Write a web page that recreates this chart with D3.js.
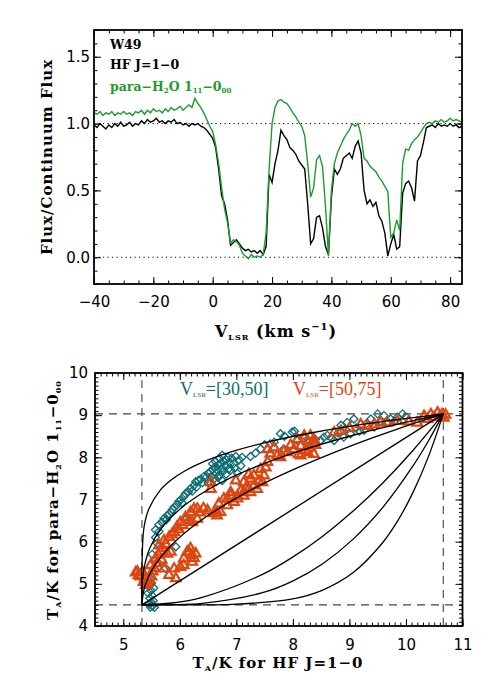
<!DOCTYPE html>
<html>
<head>
<meta charset="utf-8">
<script src="https://cdn.jsdelivr.net/npm/d3@7"></script>
<style>
  body { margin: 0; background: #fff; }
  svg { display: block; }
</style>
</head>
<body>
<div id="chart"></div>
<script>
// ---- top panel: spectra (1 km/s channels) ----
const velocity = d3.range(-40, 85, 1);
const hfFlux = [
  0.99, 0.97, 1.00, 0.98, 0.96, 0.99, 0.97, 1.00, 0.98, 1.01,
  0.98, 0.99, 1.01, 0.98, 1.00, 0.99, 1.02, 1.00, 1.03, 1.01,
  1.02, 1.04, 1.01, 1.02, 1.00, 1.02, 1.01, 1.03, 1.00, 1.01,
  0.99, 1.00, 0.98, 1.00, 0.99, 1.00, 0.98, 0.97, 0.95, 0.92,
  0.89, 0.82, 0.66, 0.46, 0.40, 0.28, 0.09, 0.11, 0.13, 0.10,
  0.07, 0.05, 0.06, 0.04, 0.05, 0.03, 0.05, 0.02, 0.08, 0.62,
  0.56, 0.70, 0.80, 0.95, 0.91, 0.88, 0.82, 0.80, 0.77, 0.72,
  0.69, 0.66, 0.40, 0.10, 0.14, 0.30, 0.31, 0.22, 0.08, 0.02,
  0.45, 0.66, 0.62, 0.66, 0.74, 0.76, 0.78, 0.74, 0.83, 0.87,
  0.78, 0.50, 0.40, 0.43, 0.38, 0.41, 0.31, 0.27, 0.18, 0.01,
  0.10, 0.17, 0.06, 0.08, 0.48, 0.55, 0.57, 0.52, 0.42, 0.72,
  0.76, 0.86, 0.97, 0.98, 0.99, 0.97, 1.00, 0.98, 0.99, 0.98,
  1.00, 0.98, 0.99, 0.97, 0.98
];
const h2oFlux = [
  1.08, 1.07, 1.09, 1.06, 1.08, 1.07, 1.09, 1.06, 1.08, 1.07,
  1.09, 1.07, 1.08, 1.06, 1.09, 1.08, 1.10, 1.07, 1.10, 1.08,
  1.11, 1.09, 1.10, 1.08, 1.11, 1.09, 1.12, 1.10, 1.11, 1.13,
  1.10, 1.12, 1.14, 1.12, 1.19, 1.15, 1.12, 1.08, 1.03, 0.98,
  0.94, 0.84, 0.70, 0.52, 0.36, 0.26, 0.11, 0.13, 0.12, 0.09,
  0.03, 0.01, -0.01, 0.02, 0.00, 0.01, 0.00, 0.02, 0.18, 0.66,
  1.00, 1.12, 1.17, 1.18, 1.16, 1.15, 1.12, 1.08, 1.05, 1.01,
  0.98, 0.91, 0.70, 0.45, 0.52, 0.73, 0.76, 0.68, 0.38, 0.01,
  0.50, 0.70, 0.78, 0.83, 0.88, 0.92, 0.95, 1.00, 0.98, 1.00,
  0.91, 0.74, 0.72, 0.68, 0.66, 0.64, 0.60, 0.57, 0.53, 0.49,
  0.15, 0.18, 0.28, 0.20, 0.70, 0.81, 0.80, 0.85, 0.88, 0.90,
  0.93, 0.97, 1.00, 1.01, 1.00, 1.02, 1.01, 1.03, 1.01, 1.02,
  1.04, 1.02, 1.03, 1.02, 1.01
];
const topXTicks = [-40, -20, 0, 20, 40, 60, 80];
const topYTicks = [0.0, 0.5, 1.0, 1.5];

// ---- bottom panel: T_A(HF) vs T_A(p-H2O) ----
const points30to50 = [
  [5.48,4.45],[5.52,4.48],[5.55,4.44],[5.46,4.52],[5.50,4.56],[5.53,4.60],[5.47,4.66],
  [5.51,4.72],[5.44,4.78],[5.49,4.84],[5.54,4.90],[5.46,4.96],[5.50,5.02],[5.48,5.12],
  [5.51,5.70],[5.60,5.50],[5.75,5.37],[5.93,5.88],[5.60,5.96],[6.10,6.52],
  [5.57,6.10],[5.57,6.28],[5.63,6.24],[5.63,6.40],[5.68,6.46],[5.72,6.55],[5.76,6.52],
  [5.78,6.62],[5.81,6.66],[5.85,6.70],[5.87,6.76],[5.90,6.82],[5.95,6.87],[5.98,6.95],
  [6.02,7.00],[6.04,6.92],[6.07,7.07],[6.10,7.14],[6.15,7.18],[6.19,7.26],[6.22,7.20],
  [6.25,7.33],[6.28,7.42],[6.30,7.30],[6.33,7.45],[6.37,7.48],[6.40,7.40],[6.43,7.55],
  [6.46,7.52],[6.50,7.62],[6.54,7.66],[6.56,7.55],[6.58,7.72],[6.62,7.76],[6.64,7.62],
  [6.66,7.70],[6.68,7.82],[6.70,7.58],[6.72,7.86],[6.74,7.74],[6.76,7.66],[6.78,7.90],
  [6.80,7.80],[6.83,7.94],[6.86,7.72],[6.88,7.88],[6.92,7.98],[6.95,7.85],[6.99,8.02],
  [6.60,7.48],[6.68,7.52],[6.75,7.45],[6.82,7.60],[6.90,7.70],[6.97,7.75],[7.02,7.62],
  [6.63,7.90],[6.70,7.98],[6.75,8.05],[6.58,7.85],[6.50,7.40],[6.85,8.00],[7.08,7.80],
  [7.05,7.94],[7.10,8.00],[7.25,8.02],[7.34,8.10],[7.43,8.20],[7.50,8.30],[7.60,8.32],
  [7.67,8.36],[7.78,8.56],[7.84,8.20],[7.85,8.50],[7.99,8.60],[8.03,8.62],[8.08,8.40],
  [8.20,8.45],[8.30,8.38],[8.40,8.42],[8.49,8.40],[8.55,8.48],[8.61,8.52],[8.68,8.46],
  [8.73,8.40],[8.80,8.58],[8.85,8.76],[8.90,8.48],[8.93,8.66],[8.96,8.83],[9.02,8.56],
  [9.08,8.91],[9.12,8.70],[9.18,8.62],[9.26,8.64],[9.30,8.80],[9.38,8.91],[9.44,8.72],
  [9.50,9.03],[9.55,8.86],[9.61,8.99],[9.68,8.84],[9.73,8.91],[9.80,8.86],[9.85,8.95],
  [9.94,9.03],[10.00,8.96]
];
const points50to75 = [
  [5.22,5.28],[5.27,5.22],[5.25,5.30],[5.30,5.18],[5.34,5.30],[5.38,5.12],[5.36,5.05],
  [5.40,4.98],[5.43,5.02],[5.45,5.10],[5.48,5.45],[5.50,5.18],[5.52,5.30],[5.55,5.38],
  [5.57,5.61],[5.60,5.50],[5.62,5.70],[5.63,5.92],[5.66,5.77],[5.68,5.58],[5.70,5.85],
  [5.72,6.04],[5.72,5.37],[5.75,5.95],[5.78,5.72],[5.81,6.12],[5.81,5.22],[5.84,5.77],
  [5.86,6.18],[5.90,6.24],[5.90,5.37],[5.93,5.14],[5.95,6.36],[5.98,6.30],[6.01,6.47],
  [6.01,5.41],[6.05,6.40],[6.07,5.45],[6.07,5.61],[6.10,6.59],[6.13,5.77],[6.16,5.77],
  [6.16,6.52],[6.19,5.85],[6.19,6.71],[6.22,5.69],[6.22,5.53],[6.25,6.79],[6.25,5.62],
  [6.28,5.73],[6.22,6.47],[6.31,6.55],[6.31,6.79],[6.36,6.70],
  [6.42,6.80],[6.49,6.75],[6.55,7.26],[6.55,7.42],[6.60,6.68],[6.66,6.63],[6.66,6.71],
  [6.69,6.91],[6.72,6.71],[6.78,7.03],[6.84,6.87],[6.84,7.03],[6.90,7.18],[6.90,7.10],
  [6.96,6.95],[6.99,7.46],[7.02,7.03],[7.02,7.10],[7.08,7.22],[7.13,7.10],[7.13,7.18],
  [7.13,7.42],[7.18,7.30],[7.22,7.26],[7.25,7.18],[7.25,7.50],[7.22,7.61],[7.31,7.34],
  [7.31,7.58],[7.37,7.26],[7.40,7.45],[7.43,7.73],[7.46,7.42],[7.49,7.58],[7.52,7.77],
  [7.55,7.90],
  [7.55,8.20],[7.60,8.10],[7.67,8.24],[7.72,8.05],[7.78,8.01],[7.84,8.15],[7.90,8.13],
  [7.96,8.30],[8.02,8.20],[8.08,8.44],[8.10,8.08],[8.14,8.28],[8.14,8.05],[8.20,8.52],
  [8.22,8.18],[8.26,8.40],[8.26,8.13],[8.31,8.52],[8.31,8.24],[8.34,8.35],[8.37,8.44],
  [8.37,8.09],[8.40,8.30],[8.73,8.60],[8.85,8.64],[9.00,8.70],[9.20,8.79],[9.32,8.75],
  [9.44,8.79],[9.55,8.84],[9.67,8.83],[9.85,8.87],[10.05,8.86],[10.20,8.83],[10.32,8.99],
  [10.38,8.92],[10.44,9.03],[10.50,8.96],[10.56,9.07],[10.60,8.98],[10.64,9.03],
  [10.67,8.95],[10.70,9.02]
];
// model curves
const model1 = [[5.33,4.5],[5.331,5.406],[5.364,6.312],[5.448,6.765],[5.651,7.218],[5.829,7.445],
  [6.079,7.671],[6.425,7.898],[6.892,8.124],[7.510,8.351],[8.315,8.577],[9.349,8.804],[10.66,9.03]];
const model2 = [[5.33,4.5],[5.335,4.953],[5.373,5.406],[5.474,5.859],[5.671,6.312],[5.996,6.765],
  [6.481,7.218],[7.158,7.671],[8.059,8.124],[9.216,8.577],[10.66,9.03]];
const model3 = [[5.33,4.5],[5.383,4.953],[5.543,5.406],[5.863,5.932],[6.396,6.525],[7.196,7.182],
  [7.995,7.703],[9.061,8.292],[9.861,8.677],[10.66,9.03]];
const model4 = [[5.33,4.5],[10.66,9.03]];
const model5 = [[5.33,4.5],[5.863,4.545],[6.396,4.681],[7.462,5.225],[7.995,5.633],[8.528,6.131],
  [9.061,6.720],[9.594,7.399],[10.127,8.169],[10.66,9.03]];
const model6 = [[5.33,4.5],[5.863,4.505],[6.396,4.536],[7.462,4.790],[7.995,5.066],[8.528,5.478],
  [9.061,6.054],[9.594,6.819],[10.127,7.802],[10.394,8.382],[10.66,9.03]];
const model7 = [[5.33,4.5],[6.13,4.5],[6.929,4.511],[7.995,4.642],[8.528,4.852],[9.061,5.261],
  [9.594,5.986],[9.861,6.510],[10.127,7.175],[10.394,8.005],[10.66,9.03]];
const limitsHF = [5.33, 10.66];
const limitsH2O = [4.5, 9.03];

const green = "#1f9a2f", teal = "#0f6c75", orange = "#de4610";
const serif = "DejaVu Serif", sans = "DejaVu Sans";

const svg = d3.select("#chart").append("svg").attr("width", 491).attr("height", 687);

// rich text with sub/superscripts
function richText(g, parts, x, y, opts) {
  const t = g.append("text")
    .attr("font-family", opts.family || serif)
    .attr("font-weight", opts.weight || "bold")
    .attr("font-size", opts.size || 15)
    .attr("letter-spacing", opts.spacing || 0)
    .attr("fill", opts.fill || "#000")
    .attr("text-anchor", opts.anchor || "start");
  if (opts.rotate) t.attr("transform", `translate(${x},${y}) rotate(-90)`);
  else t.attr("x", x).attr("y", y);
  let prev = 0;
  parts.forEach(p => {
    const shift = p.sub ? (opts.subShift || 3) : p.sup ? -(opts.supShift || 6) : 0;
    const ts = t.append("tspan").text(p.t).attr("dy", shift - prev);
    if (p.sub || p.sup) ts.attr("font-size", p.sup ? (opts.supSize || 10) : (opts.small || 8));
    prev = shift;
  });
  return t;
}

// IDL style box with inward ticks on all four sides
function boxAxes(g, x, y, xMajor, xMinor, yMajor, yMinor, xFmt, yFmt, xPad, yPad) {
  const [x0, x1] = x.range(), [y0, y1] = y.range();
  const style = sel => {
    sel.select(".domain").remove();
    sel.selectAll("line").attr("stroke", "#000").attr("stroke-width", 1);
    sel.selectAll("text").attr("font-family", sans).attr("font-size", 15).attr("fill", "#000");
  };
  g.append("g").attr("transform", `translate(0,${y0})`)
    .call(d3.axisBottom(x).tickValues(xMajor).tickSize(-7).tickPadding(xPad).tickFormat(xFmt)).call(style);
  g.append("g").attr("transform", `translate(0,${y0})`)
    .call(d3.axisBottom(x).tickValues(xMinor).tickSize(-3.5).tickFormat("")).call(style);
  g.append("g").attr("transform", `translate(0,${y1})`)
    .call(d3.axisTop(x).tickValues(xMajor).tickSize(-7).tickFormat("")).call(style);
  g.append("g").attr("transform", `translate(0,${y1})`)
    .call(d3.axisTop(x).tickValues(xMinor).tickSize(-3.5).tickFormat("")).call(style);
  g.append("g").attr("transform", `translate(${x0},0)`)
    .call(d3.axisLeft(y).tickValues(yMajor).tickSize(-7).tickPadding(yPad).tickFormat(yFmt)).call(style);
  g.append("g").attr("transform", `translate(${x0},0)`)
    .call(d3.axisLeft(y).tickValues(yMinor).tickSize(-3.5).tickFormat("")).call(style);
  g.append("g").attr("transform", `translate(${x1},0)`)
    .call(d3.axisRight(y).tickValues(yMajor).tickSize(-7).tickFormat("")).call(style);
  g.append("g").attr("transform", `translate(${x1},0)`)
    .call(d3.axisRight(y).tickValues(yMinor).tickSize(-3.5).tickFormat("")).call(style);
  g.append("rect")
    .attr("x", x0).attr("y", y1).attr("width", x1 - x0).attr("height", y0 - y1)
    .attr("fill", "none").attr("stroke", "#000").attr("stroke-width", 1.8);
}

// ================= top panel =================
const xTop = d3.scaleLinear().domain([-40, 84]).range([94, 462]);
const yTop = d3.scaleLinear().domain([-0.2, 1.7]).range([284, 30]);
const gTop = svg.append("g");

[0, 1].forEach(v => {
  gTop.append("line")
    .attr("x1", xTop(-40)).attr("x2", xTop(84)).attr("y1", yTop(v)).attr("y2", yTop(v))
    .attr("stroke", "#000").attr("stroke-width", 1).attr("stroke-dasharray", "1.2,3.3");
});

const specLine = vals => d3.line().x((d, i) => xTop(velocity[i])).y(d => yTop(d))(vals);
gTop.append("path").attr("d", specLine(hfFlux))
  .attr("fill", "none").attr("stroke", "#000").attr("stroke-width", 1.4);
gTop.append("path").attr("d", specLine(h2oFlux))
  .attr("fill", "none").attr("stroke", green).attr("stroke-width", 1.4);

boxAxes(gTop, xTop, yTop, topXTicks, d3.range(-40, 85, 5),
  topYTicks, d3.range(-2, 18).map(d => d / 10),
  d3.format("d"), d3.format(".1f"), 12, 4);

richText(gTop, [{ t: "W49" }], 110, 49, { size: 12.5 });
richText(gTop, [{ t: "HF J=1\u22120" }], 110, 69, { size: 12.5 });
richText(gTop, [{ t: "para\u2212H" }, { t: "2", sub: true }, { t: "O 1" }, { t: "11", sub: true },
  { t: "\u22120" }, { t: "00", sub: true }], 110, 91, { size: 12.5, fill: green, small: 7, subShift: 2 });

richText(gTop, [{ t: "Flux/Continuum Flux" }], 52, 157,
  { size: 15, spacing: 1, anchor: "middle", rotate: true });
richText(gTop, [{ t: "V" }, { t: "LSR", sub: true }, { t: " (km s" }, { t: "\u22121", sup: true }, { t: ")" }],
  276, 337, { size: 16, spacing: 1, anchor: "middle", supSize: 10, supShift: 7 });

// ================= bottom panel =================
const xBot = d3.scaleLinear().domain([4.5, 11]).range([95, 462.5]);
const yBot = d3.scaleLinear().domain([4, 10]).range([626, 373]);
const gBot = svg.append("g");

limitsHF.forEach(v => {
  gBot.append("line").attr("x1", xBot(v)).attr("x2", xBot(v)).attr("y1", yBot(4)).attr("y2", yBot(10))
    .attr("stroke", "#444").attr("stroke-width", 1.1).attr("stroke-dasharray", "8,6");
});
limitsH2O.forEach(v => {
  gBot.append("line").attr("x1", xBot(4.5)).attr("x2", xBot(11)).attr("y1", yBot(v)).attr("y2", yBot(v))
    .attr("stroke", "#444").attr("stroke-width", 1.1).attr("stroke-dasharray", "8,6");
});

const diamond = r => `M0,${-r}L${r},0L0,${r}L${-r},0Z`;
const triangle = r => `M0,${-r}L${r * 0.95},${r * 0.65}L${-r * 0.95},${r * 0.65}Z`;

gBot.append("g").selectAll("path").data(points30to50).join("path")
  .attr("d", diamond(4))
  .attr("transform", d => `translate(${xBot(d[0])},${yBot(d[1])})`)
  .attr("fill", "none").attr("stroke", teal).attr("stroke-width", 1.3);
gBot.append("g").selectAll("path").data(points50to75).join("path")
  .attr("d", triangle(5))
  .attr("transform", d => `translate(${xBot(d[0])},${yBot(d[1])})`)
  .attr("fill", "none").attr("stroke", orange).attr("stroke-width", 2.2);

const modelLine = d3.line().x(d => xBot(d[0])).y(d => yBot(d[1])).curve(d3.curveCatmullRom.alpha(0.5));
[model1, model2, model3, model4, model5, model6, model7].forEach(m => {
  gBot.append("path").attr("d", modelLine(m))
    .attr("fill", "none").attr("stroke", "#000").attr("stroke-width", 1.3);
});

boxAxes(gBot, xBot, yBot, d3.range(5, 12), d3.range(45, 111).map(d => d / 10),
  d3.range(4, 11), d3.range(40, 101).map(d => d / 10),
  d3.format("d"), d3.format("d"), 13, 7);

richText(gBot, [{ t: "V" }, { t: "LSR", sub: true }, { t: "=[30,50]" }], 180, 395,
  { family: "Liberation Serif", weight: "normal", size: 18, fill: teal, small: 7, subShift: 2 });
richText(gBot, [{ t: "V" }, { t: "LSR", sub: true }, { t: "=[50,75]" }], 293, 395,
  { family: "Liberation Serif", weight: "normal", size: 18, fill: orange, small: 7, subShift: 2 });

richText(gBot, [{ t: "T" }, { t: "A", sub: true }, { t: "/K for para\u2212H" }, { t: "2", sub: true },
  { t: "O 1" }, { t: "11", sub: true }, { t: "\u22120" }, { t: "00", sub: true }],
  58, 500, { size: 15, spacing: 1, anchor: "middle", rotate: true });
richText(gBot, [{ t: "T" }, { t: "A", sub: true }, { t: "/K for HF J=1\u22120" }],
  278, 668, { size: 15, spacing: 1, anchor: "middle" });
</script>
</body>
</html>
